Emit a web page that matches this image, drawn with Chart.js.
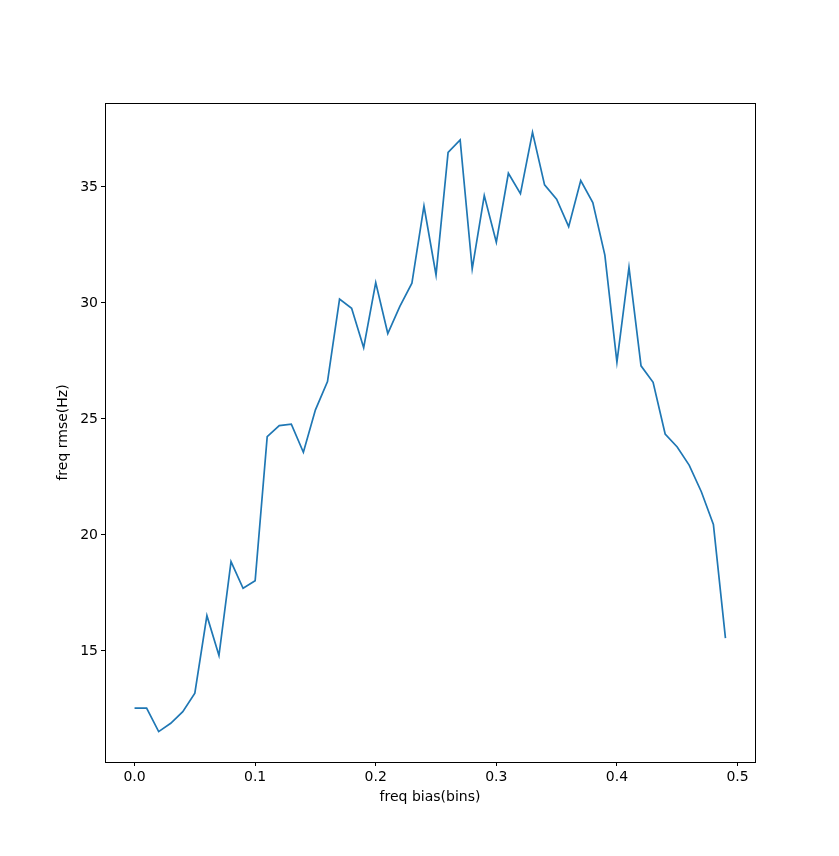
<!DOCTYPE html>
<html>
<head>
<meta charset="utf-8">
<script src="https://cdn.jsdelivr.net/npm/chart.js@4"></script>
<style>
  html, body { margin: 0; padding: 0; background: #fff; }
  #wrap { width: 839px; height: 856px; }
</style>
</head>
<body>
<div id="wrap"><canvas id="lineChart"></canvas></div>
<script>
// data
const freqBias = [0.00, 0.01, 0.02, 0.03, 0.04, 0.05, 0.06, 0.07, 0.08, 0.09,
                  0.10, 0.11, 0.12, 0.13, 0.14, 0.15, 0.16, 0.17, 0.18, 0.19,
                  0.20, 0.21, 0.22, 0.23, 0.24, 0.25, 0.26, 0.27, 0.28, 0.29,
                  0.30, 0.31, 0.32, 0.33, 0.34, 0.35, 0.36, 0.37, 0.38, 0.39,
                  0.40, 0.41, 0.42, 0.43, 0.44, 0.45, 0.46, 0.47, 0.48, 0.49];
const freqRmse = [12.53, 12.53, 11.52, 11.88, 12.38, 13.18, 16.52, 14.80, 18.85, 17.70,
                  18.02, 24.24, 24.71, 24.77, 23.56, 25.39, 26.61, 30.17, 29.77, 28.07,
                  30.88, 28.68, 29.85, 30.85, 34.18, 31.21, 36.49, 37.03, 31.47, 34.63,
                  32.62, 35.59, 34.71, 37.36, 35.09, 34.47, 33.29, 35.28, 34.33, 32.06,
                  27.45, 31.53, 27.29, 26.58, 24.35, 23.79, 23.00, 21.86, 20.45, 15.55];
const xTicks = [0.0, 0.1, 0.2, 0.3, 0.4, 0.5];
const yTicks = [15, 20, 25, 30, 35];

const FONT = { family: "'DejaVu Sans', sans-serif", size: 14 };

// box round the plot, like matplotlib
const frame = {
  id: 'frame',
  afterDraw(chart) {
    const a = chart.chartArea, c = chart.ctx;
    c.save();
    c.strokeStyle = '#000';
    c.lineWidth = 1;
    c.strokeRect(Math.round(a.left) + 0.5, Math.round(a.top) + 0.5,
                 Math.round(a.right - a.left), Math.round(a.bottom - a.top));
    c.restore();
  }
};

window.onload = function () {
  const ctx = document.getElementById('lineChart');

  new Chart(ctx, {
    type: 'line',
    data: {
      datasets: [{
        data: freqBias.map((x, i) => ({ x: x, y: freqRmse[i] })),
        borderColor: '#1f77b4',
        borderWidth: 1.7,
        pointRadius: 0,
        tension: 0,
        fill: false
      }]
    },
    options: {
      responsive: true,
      maintainAspectRatio: false,
      animation: false,
      layout: { padding: { top: 103, right: 84, left: 0, bottom: 0 } },
      plugins: { legend: { display: false }, tooltip: { enabled: false } },
      scales: {
        x: {
          type: 'linear',
          min: -0.0245,
          max: 0.5145,
          afterBuildTicks: s => { s.ticks = xTicks.map(v => ({ value: v })); },
          afterFit: s => { s.height = 94; },
          ticks: {
            color: '#000', font: FONT, padding: 3, maxRotation: 0,
            callback: v => v.toFixed(1)
          },
          grid: { drawOnChartArea: false, drawTicks: true, tickLength: 4, color: '#000' },
          border: { display: true, color: '#000' },
          title: {
            display: true, text: 'freq bias(bins)', color: '#000', font: FONT,
            padding: { top: 0, bottom: 50 }
          }
        },
        y: {
          type: 'linear',
          min: 10.21,
          max: 38.62,
          afterBuildTicks: s => { s.ticks = yTicks.map(v => ({ value: v })); },
          afterFit: s => { s.width = 105; },
          ticks: { color: '#000', font: FONT, padding: 3 },
          grid: { drawOnChartArea: false, drawTicks: true, tickLength: 4, color: '#000' },
          border: { display: true, color: '#000' },
          title: {
            display: true, text: 'freq rmse(Hz)', color: '#000', font: FONT,
            padding: { top: 55, bottom: 0 }
          }
        }
      }
    },
    plugins: [frame]
  });
};
</script>
</body>
</html>
